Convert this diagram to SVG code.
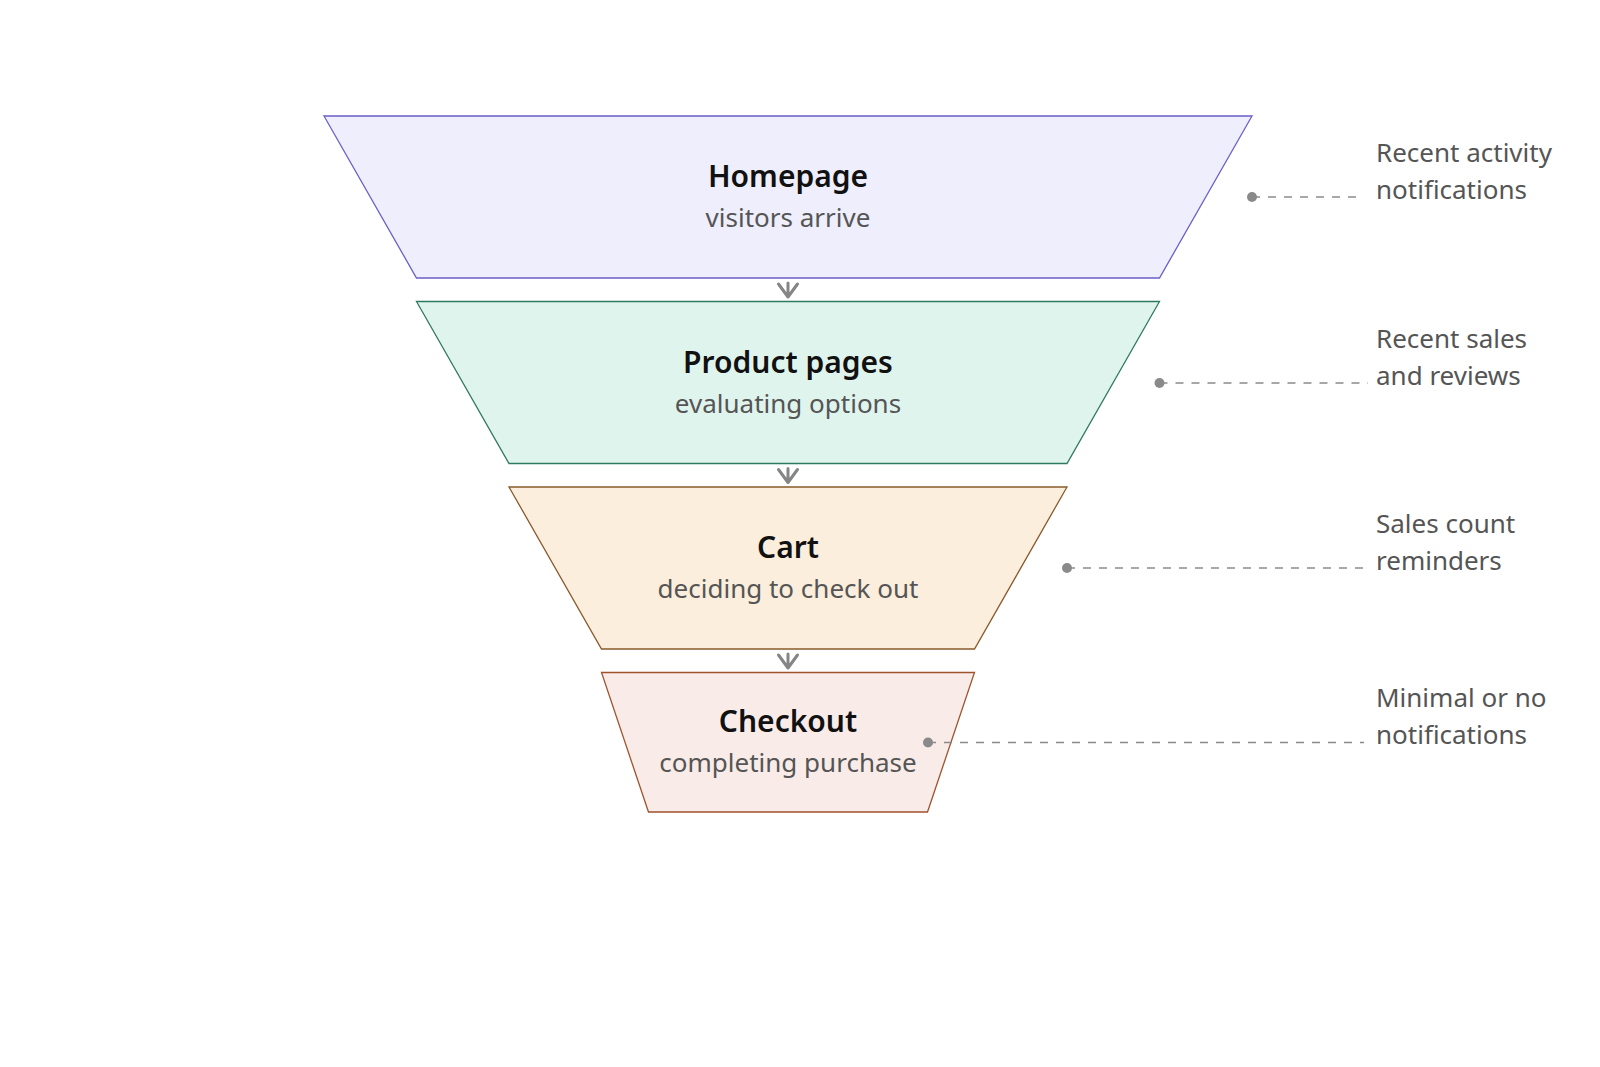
<svg xmlns="http://www.w3.org/2000/svg" width="1600" height="1067" viewBox="0 0 1600 1067">
<defs>
<style>
.stage { stroke-width: 1.3; }
.title { font-family: "Noto Sans", "Open Sans", sans-serif; font-size: 30px; font-weight: 600; fill: #111111; text-anchor: middle; }
.sub { font-family: "Noto Sans", "Open Sans", sans-serif; font-size: 26px; fill: #555555; text-anchor: middle; }
.note { font-family: "Noto Sans", "Open Sans", sans-serif; font-size: 26px; fill: #555555; }
.lead { stroke: #8a8a8a; stroke-width: 1.6; stroke-dasharray: 8 8; fill: none; }
.dot { fill: #8a8a8a; }
.flow { stroke: #858585; stroke-width: 3; fill: none; stroke-linecap: round; stroke-linejoin: round; }
</style>
</defs>
<rect width="1600" height="1067" fill="#ffffff"/>

<g id="homepage">
<polygon class="stage" points="324,116 1252,116 1159.5,278 416.5,278" fill="#eeeefc" stroke="#6a5fc8"/>
<text class="title" x="788" y="187">Homepage</text>
<text class="sub" x="788" y="227">visitors arrive</text>
</g>

<g id="product-pages">
<polygon class="stage" points="416.5,301.5 1159.5,301.5 1067,463.5 509,463.5" fill="#e0f4ee" stroke="#2e7a5e"/>
<text class="title" x="788" y="373">Product pages</text>
<text class="sub" x="788" y="413">evaluating options</text>
</g>

<g id="cart">
<polygon class="stage" points="509,487 1067,487 974.5,649 601.5,649" fill="#fbeedc" stroke="#8b5a2b"/>
<text class="title" x="788" y="558">Cart</text>
<text class="sub" x="788" y="598">deciding to check out</text>
</g>

<g id="checkout">
<polygon class="stage" points="601.5,672.5 974.5,672.5 927.5,812 648.5,812" fill="#f9ece8" stroke="#a0522d"/>
<text class="title" x="788" y="732">Checkout</text>
<text class="sub" x="788" y="772">completing purchase</text>
</g>

<g id="note-homepage">
<text class="note" x="1376" y="162">Recent activity</text>
<text class="note" x="1376" y="199">notifications</text>
</g>
<g id="note-product">
<text class="note" x="1376" y="348">Recent sales</text>
<text class="note" x="1376" y="385">and reviews</text>
</g>
<g id="note-cart">
<text class="note" x="1376" y="533">Sales count</text>
<text class="note" x="1376" y="570">reminders</text>
</g>
<g id="note-checkout">
<text class="note" x="1376" y="707">Minimal or no</text>
<text class="note" x="1376" y="744">notifications</text>
</g>

<g id="connectors">
<path class="flow" d="M788,283 V297 M778.5,284 L788,297 L797.5,284"/>
<path class="flow" d="M788,468.5 V482.5 M778.5,469.5 L788,482.5 L797.5,469.5"/>
<path class="flow" d="M788,654 V668 M778.5,655 L788,668 L797.5,655"/>
<line class="lead" x1="1252" y1="197" x2="1364" y2="197"/>
<circle class="dot" cx="1252" cy="197" r="5"/>
<line class="lead" x1="1159.5" y1="383" x2="1368" y2="383"/>
<circle class="dot" cx="1159.5" cy="383" r="5"/>
<line class="lead" x1="1067" y1="568" x2="1368" y2="568"/>
<circle class="dot" cx="1067" cy="568" r="5"/>
<line class="lead" x1="928" y1="742.5" x2="1364" y2="742.5"/>
<circle class="dot" cx="928" cy="742.5" r="5"/>
</g>
</svg>
